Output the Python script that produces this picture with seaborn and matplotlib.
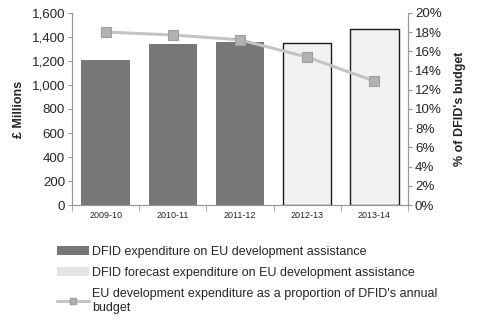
import matplotlib
matplotlib.use("Agg")
import matplotlib.pyplot as plt
import matplotlib.ticker as mticker
from matplotlib.patches import Patch
from matplotlib.lines import Line2D
import numpy as np
import pandas as pd
import seaborn as sns

years = ["2009-10", "2010-11", "2011-12", "2012-13", "2013-14"]
spend = [1205, 1345, 1355, 1352, 1462]
kind = ["Actual", "Actual", "Actual", "Forecast", "Forecast"]
pct_budget = [18.0, 17.7, 17.2, 15.4, 12.9]

labels = [
    "DFID expenditure on EU development assistance",
    "DFID forecast expenditure on EU development assistance",
    "EU development expenditure as a proportion of DFID's annual\nbudget",
]

sns.set_style("white")
plt.rcParams["font.family"] = ["Liberation Sans", "DejaVu Sans"]

df = pd.DataFrame({"year": years, "spend": spend, "kind": kind})

fig, ax = plt.subplots(figsize=(4.8, 3.22), dpi=100)
fig.subplots_adjust(left=0.15, right=0.85, top=0.96, bottom=0.363)

sns.barplot(data=df, x="year", y="spend", hue="kind", dodge=False, width=0.72,
            palette={"Actual": "#777777", "Forecast": "#f2f2f2"},
            legend=False, ax=ax)
# forecast bars get a dark outline
for patch in ax.patches:
    fc = patch.get_facecolor()
    if fc[0] > 0.8:
        patch.set_edgecolor("#1a1a1a")
        patch.set_linewidth(1.0)
    else:
        patch.set_edgecolor("none")

ax.set_ylim(0, 1600)
ax.set_xlim(-0.5, 4.5)
ax.yaxis.set_major_locator(mticker.MultipleLocator(200))
ax.yaxis.set_major_formatter(mticker.FuncFormatter(lambda v, p: f"{int(v):,}"))
ax.set_xlabel("")
ax.set_ylabel("£ Millions", fontsize=9, fontweight="bold", labelpad=5)
ax.tick_params(axis="y", labelsize=9.6, length=3, color="#999999", pad=2, left=True)
ax.tick_params(axis="x", labelsize=6.5, length=0, pad=4)
ax.xaxis.set_minor_locator(mticker.FixedLocator(np.arange(-0.5, 5, 1)))
ax.tick_params(axis="x", which="minor", length=4, color="#999999", bottom=True)

ax2 = ax.twinx()
sns.lineplot(x=np.arange(len(years)), y=pct_budget, ax=ax2, color="#c4c4c4",
             linewidth=2.2, marker="s", markersize=7.5, markerfacecolor="#b2b2b2",
             markeredgecolor="#a0a0a0", markeredgewidth=0.8)
ax2.set_ylim(0, 20)
ax2.yaxis.set_major_locator(mticker.MultipleLocator(2))
ax2.yaxis.set_major_formatter(mticker.FuncFormatter(lambda v, p: f"{int(v)}%"))
ax2.set_ylabel("% of DFID's budget", fontsize=9, fontweight="bold", labelpad=9)
ax2.tick_params(axis="y", labelsize=9.6, length=3, color="#999999", pad=2, right=True)

for a in (ax, ax2):
    a.spines["top"].set_visible(False)
    for s in ("left", "right", "bottom"):
        a.spines[s].set_color("#999999")
        a.spines[s].set_linewidth(0.8)

handles = [
    Patch(facecolor="#777777", edgecolor="none"),
    Patch(facecolor="#e6e6e6", edgecolor="none"),
    Line2D([0], [0], color="#c4c4c4", linewidth=2.2, marker="s", markersize=4,
           markerfacecolor="#b2b2b2", markeredgecolor="#a0a0a0"),
]
fig.legend(handles, labels, loc="upper left", bbox_to_anchor=(0.108, 0.253),
           frameon=False, fontsize=9, handlelength=2.6, handleheight=0.7,
           handletextpad=0.2, labelspacing=0.75, borderaxespad=0)

fig.savefig("out.png", dpi=100)
